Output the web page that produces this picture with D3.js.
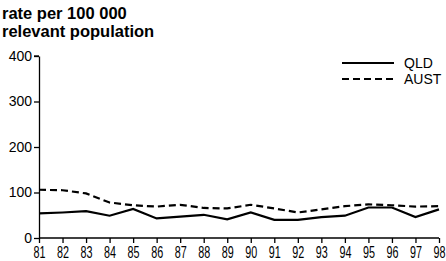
<!DOCTYPE html>
<html>
<head>
<meta charset="utf-8">
<script src="https://cdn.jsdelivr.net/npm/d3@7"></script>
<style>
  body { margin: 0; background: #fff; }
  svg { display: block; font-family: 'Liberation Sans', Arial, sans-serif; }
</style>
</head>
<body>
<div id="chart"></div>
<script>
const width = 446
const height = 261
const margin = { top: 56, right: 7, bottom: 23, left: 39 }

const years = ['81', '82', '83', '84', '85', '86', '87', '88', '89', '90', '91', '92', '93', '94', '95', '96', '97', '98']
const qld = [54, 56, 59, 49, 64, 43, 47, 51, 41, 56, 40, 40, 46, 49, 67, 67, 46, 63]
const aust = [106, 105, 98, 78, 72, 69, 73, 66, 65, 73, 65, 56, 63, 70, 74, 72, 69, 70]
const yTicks = [0, 100, 200, 300, 400]

const svg = d3
  .select('#chart')
  .append('svg')
  .attr('width', width)
  .attr('height', height)

const x = d3
  .scalePoint()
  .domain(years)
  .range([margin.left, width - margin.right])

const y = d3
  .scaleLinear()
  .domain([0, 400])
  .range([height - margin.bottom, margin.top])

// title
svg
  .append('text')
  .attr('x', 2)
  .attr('y', 19)
  .attr('font-size', 16.5)
  .attr('font-weight', 'bold')
  .call(t => t.append('tspan').attr('x', 2).text('rate per 100 000'))
  .call(t => t.append('tspan').attr('x', 2).attr('dy', 18).text('relevant population'))

svg
  .append('g')
  .attr('transform', `translate(${margin.left},0)`)
  .call(d3.axisLeft(y).tickValues(yTicks).tickSize(5).tickPadding(2).tickSizeOuter(0))
  .call(g => g.select('.domain').attr('stroke-width', 1.3))
  .call(g => g.selectAll('.tick line').attr('stroke-width', 1.3))
  .call(g =>
    g
      .selectAll('text')
      .attr('font-size', 14)
      .attr('font-family', null)
      .attr('fill', '#000')
  )

// x labels are set in a condensed face: squeeze them to the measured width
svg
  .append('g')
  .attr('transform', `translate(0,${height - margin.bottom})`)
  .call(d3.axisBottom(x).tickSize(5).tickPadding(1).tickSizeOuter(0))
  .call(g =>
    g
      .select('.domain')
      .attr('stroke-width', 1.3)
      .attr('d', `M${margin.left},0H${width - margin.right}`)
  )
  .call(g => g.selectAll('.tick line').attr('stroke-width', 1.3))
  .call(g =>
    g
      .selectAll('text')
      .attr('font-size', 16)
      .attr('font-family', null)
      .attr('fill', '#000')
      .attr('y', 20)
      .attr('dy', null)
      .attr('textLength', 12)
      .attr('lengthAdjust', 'spacingAndGlyphs')
  )

// small corner at top of y axis
svg
  .append('line')
  .attr('x1', margin.left - 5)
  .attr('x2', margin.left)
  .attr('y1', y(400))
  .attr('y2', y(400))
  .attr('stroke', '#000')
  .attr('stroke-width', 1.3)

const line = d3
  .line()
  .x((d, i) => x(years[i]))
  .y(d => y(d))

const series = [
  { name: 'QLD', values: qld, dash: null },
  { name: 'AUST', values: aust, dash: '7,4' },
]

svg
  .selectAll('.series')
  .data(series)
  .join('path')
  .attr('class', 'series')
  .attr('fill', 'none')
  .attr('stroke', '#000')
  .attr('stroke-width', 2.2)
  .attr('stroke-dasharray', d => d.dash)
  .attr('d', d => line(d.values))

const legend = svg
  .selectAll('.legend')
  .data(series)
  .join('g')
  .attr('class', 'legend')
  .attr('transform', (d, i) => `translate(342,${63 + i * 16})`)

legend
  .append('line')
  .attr('x1', 0)
  .attr('x2', 52)
  .attr('stroke', '#000')
  .attr('stroke-width', 2.2)
  .attr('stroke-dasharray', d => d.dash)

legend
  .append('text')
  .attr('x', 62)
  .attr('y', 5)
  .attr('font-size', 14)
  .text(d => d.name)
</script>
</body>
</html>
